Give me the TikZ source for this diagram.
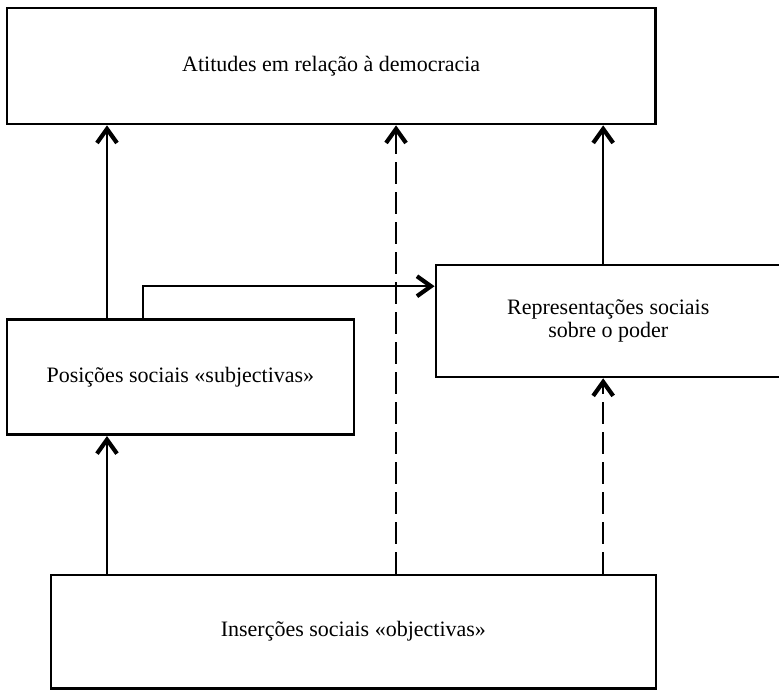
\documentclass[tikz,border=0pt]{standalone}
\usepackage{fontspec}
\setmainfont{Liberation Serif}
\usetikzlibrary{arrows.meta, positioning, calc}
\tikzset{
  bx/.style={draw=black, fill=white, minimum width=#1, minimum height=2cm,
             align=center, font=\fontsize{11}{11.7}\selectfont, line width=1.3pt,
             inner sep=0pt},
  arr/.style={-{Straight Barb[length=7pt, width=10pt, line width=2.1pt]}, line width=0.85pt},
  dsh/.style={arr, dash pattern=on 11pt off 4pt},
}

\begin{document}
\begin{tikzpicture}
    \useasboundingbox (0,0) rectangle (13.69,-12.125);

    \node[bx=11.39cm, minimum height=2.04cm] (atit) at (5.82, -1.16)  {Atitudes em relação à democracia};
    \node[bx=6.10cm,  minimum height=2.02cm] (pos)  at (3.17, -6.63)  {Posições sociais «subjectivas»};
    \node[bx=6.06cm,  minimum height=1.97cm] (rep)  at (10.69, -5.64) {Representações sociais\\sobre o poder};
    \node[bx=10.63cm, minimum height=1.99cm] (ins)  at (6.21, -11.10) {Inserções sociais «objectivas»};

    % columns of the connectors
    \coordinate (colA) at (1.88, 0);
    \coordinate (colB) at (2.51, 0);
    \coordinate (colC) at (6.96, 0);
    \coordinate (colD) at (10.60, 0);
    \coordinate (turn) at (0, -5.03);

    \draw[arr] (pos.north -| colA) -- (atit.south -| colA);
    \draw[dsh] (ins.north -| colC) -- (atit.south -| colC);
    \draw[arr] (rep.north -| colD) -- (atit.south -| colD);
    \draw[arr] (pos.north -| colB) |- (rep.west |- turn);
    \draw[arr] (ins.north -| colA) -- (pos.south -| colA);
    \draw[dsh] (ins.north -| colD) -- (rep.south -| colD);
\end{tikzpicture}
\end{document}
